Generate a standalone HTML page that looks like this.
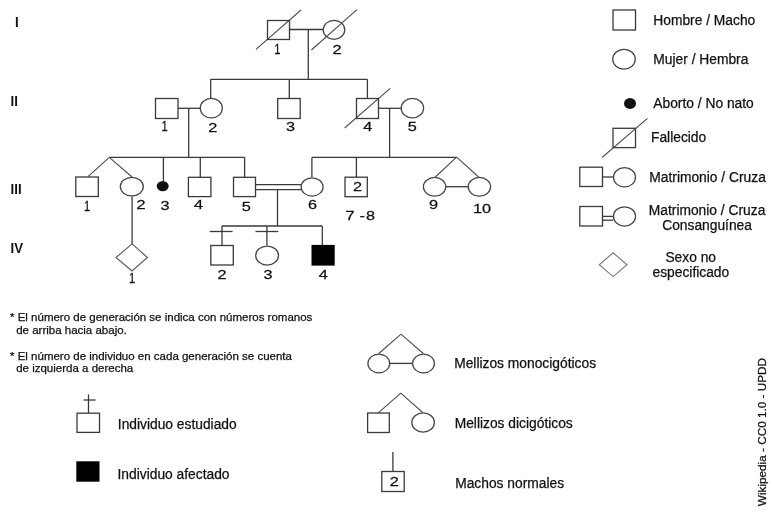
<!DOCTYPE html>
<html><head><meta charset="utf-8">
<style>
html,body{margin:0;padding:0;background:#fff;width:772px;height:512px;overflow:hidden}
svg{display:block;will-change:transform}

text{font-family:"Liberation Sans",sans-serif;fill:#111;stroke:#111;stroke-width:0.25px}
.g{font-weight:bold;font-size:14px;fill:#111;stroke:none}
.n{font-size:13px;fill:#4a4a4a;stroke:none}
.l{font-size:13.8px}
.s{font-size:11.5px}
.ln{stroke:#3a3a3a;stroke-width:1.3;fill:none}
.d{stroke:#4a4a4a;stroke-width:1.05}
.ln ellipse{stroke:#444;stroke-width:1.25}
</style></head><body>
<div id="w"><svg width="772" height="512" viewBox="0 0 772 512">
<rect width="772" height="512" fill="#fff"/>
<text class="g" transform="translate(15,27) scale(0.95,1)">I</text>
<text class="g" transform="translate(10.5,105.5) scale(0.95,1)">II</text>
<text class="g" transform="translate(10.5,193.7) scale(0.95,1)">III</text>
<text class="g" transform="translate(10.5,252.6) scale(0.95,1)">IV</text>
<g class="ln">
<line x1="289.5" y1="29.5" x2="323" y2="29.5"/>
<line x1="308.3" y1="29.5" x2="308.3" y2="79.3"/>
<line x1="210.6" y1="79.3" x2="367.4" y2="79.3"/>
<line x1="210.7" y1="79.3" x2="210.7" y2="98.5"/>
<line x1="178" y1="108.3" x2="200.1" y2="108.3"/>
<line x1="188.7" y1="108.3" x2="188.7" y2="157.4"/>
<line x1="289.3" y1="79.3" x2="289.3" y2="98.5"/>
<line x1="367.4" y1="79.3" x2="367.4" y2="98.5"/>
<line x1="378.5" y1="108.3" x2="401" y2="108.3"/>
<line x1="389.6" y1="108.3" x2="389.6" y2="157.4"/>
<line x1="109.3" y1="157.4" x2="244.6" y2="157.4"/>
<line x1="132.1" y1="196.4" x2="132.1" y2="243.9"/>
<line x1="163.4" y1="157.4" x2="163.4" y2="181"/>
<line x1="200.3" y1="157.4" x2="200.3" y2="177.3"/>
<line x1="244.6" y1="157.4" x2="244.6" y2="177.3"/>
<line x1="255.5" y1="184.6" x2="301" y2="184.6"/>
<line x1="255.5" y1="189.7" x2="301" y2="189.7"/>
<line x1="311.9" y1="157.4" x2="456.6" y2="157.4"/>
<line x1="311.9" y1="157.4" x2="311.9" y2="177.3"/>
<line x1="356.4" y1="157.4" x2="356.4" y2="177.2"/>
<line x1="446" y1="186.7" x2="468" y2="186.7"/>
<line x1="277.5" y1="189.7" x2="277.5" y2="226"/>
<line x1="222" y1="226" x2="322.3" y2="226"/>
<line x1="222" y1="226" x2="222" y2="245.5"/>
<line x1="209.8" y1="231.5" x2="232.6" y2="231.5"/>
<line x1="266.9" y1="226" x2="266.9" y2="245.5"/>
<line x1="255.5" y1="231.5" x2="278.3" y2="231.5"/>
<line x1="322.3" y1="226" x2="322.3" y2="245"/>
<line x1="602.5" y1="177" x2="613.3" y2="177"/>
<line x1="602.5" y1="216.4" x2="613.3" y2="216.4"/>
<line x1="602.5" y1="220.2" x2="613.3" y2="220.2"/>
<line x1="88.5" y1="394.4" x2="88.5" y2="413"/>
<line x1="83.5" y1="400" x2="95.6" y2="400"/>
<line x1="389.9" y1="363.4" x2="412.4" y2="363.4"/>
<line x1="392.9" y1="452" x2="392.9" y2="471.3"/>
<line class="d" x1="256" y1="49.4" x2="301" y2="10"/>
<line class="d" x1="311.4" y1="50" x2="357" y2="9.6"/>
<line class="d" x1="344.6" y1="128" x2="390.2" y2="88.4"/>
<line class="d" x1="602" y1="157.5" x2="647.5" y2="118.3"/>
<line class="d" x1="109.3" y1="157.4" x2="88" y2="176.7"/>
<line class="d" x1="109.3" y1="157.4" x2="132.1" y2="177"/>
<line class="d" x1="456.6" y1="157.2" x2="435.3" y2="177"/>
<line class="d" x1="456.6" y1="157.2" x2="478.6" y2="177"/>
<line class="d" x1="401" y1="334.1" x2="378.8" y2="353.5"/>
<line class="d" x1="401" y1="334.1" x2="423.3" y2="353.5"/>
<line class="d" x1="400.8" y1="393.2" x2="378.2" y2="412.9"/>
<line class="d" x1="400.8" y1="393.2" x2="422.7" y2="412.5"/>
<rect x="267.5" y="20.5" width="22" height="19"/>
<rect x="155.5" y="98.5" width="22.5" height="20"/>
<rect x="277.7" y="98.5" width="22.5" height="20"/>
<rect x="356.5" y="98.5" width="22" height="20"/>
<rect x="75.8" y="177" width="22.5" height="19.5"/>
<rect x="188.4" y="177.3" width="22.5" height="19.3"/>
<rect x="233.5" y="177.3" width="22" height="19.3"/>
<rect x="345" y="177.2" width="22.3" height="19.5"/>
<rect x="210.8" y="245.5" width="22.5" height="19.5"/>
<rect x="613" y="10" width="22.5" height="20"/>
<rect x="613" y="128.3" width="22.5" height="19.3"/>
<rect x="579.8" y="167.2" width="22.7" height="19.3"/>
<rect x="579.8" y="206.5" width="22.7" height="19.5"/>
<rect x="77" y="413.2" width="22.5" height="19.2"/>
<rect x="367.6" y="413" width="21.7" height="19.5"/>
<rect x="381.8" y="471.5" width="22.4" height="20"/>
<ellipse cx="334" cy="29.8" rx="10.8" ry="9.45"/>
<ellipse cx="211.3" cy="108.2" rx="11" ry="9.75"/>
<ellipse cx="412.4" cy="108.2" rx="11.2" ry="9.75"/>
<ellipse cx="131.8" cy="186.6" rx="11.5" ry="9.35"/>
<ellipse cx="312.1" cy="186.9" rx="11" ry="9.15"/>
<ellipse cx="434.6" cy="186.8" rx="11.2" ry="9.35"/>
<ellipse cx="479.4" cy="186.8" rx="11.2" ry="9.35"/>
<ellipse cx="267.1" cy="255.6" rx="11.4" ry="9.55"/>
<ellipse cx="624" cy="59.3" rx="11.3" ry="9.85"/>
<ellipse cx="624.5" cy="177.3" rx="11" ry="9.65"/>
<ellipse cx="624.5" cy="216.4" rx="11" ry="9.65"/>
<ellipse cx="378.8" cy="363.5" rx="10.9" ry="9.35"/>
<ellipse cx="423.5" cy="363.5" rx="10.9" ry="9.35"/>
<ellipse cx="423.1" cy="422.5" rx="11.3" ry="9.55"/>
<polygon points="132.1,243.9 147.4,257.5 132,271 116,257.5" style="stroke:#5a5a5a;stroke-width:1.15"/>
<polygon points="613.1,252.8 627,264.8 613.1,276.6 599.3,264.8" style="stroke:#7a7a7a;stroke-width:1.15"/>
</g>
<ellipse cx="162.7" cy="186.1" rx="6" ry="5.2" fill="#111"/>
<rect x="311.5" y="244.9" width="23.2" height="20.7" fill="#000"/>
<ellipse cx="630" cy="103.4" rx="6" ry="5.5" fill="#111"/>
<rect x="76.3" y="461.3" width="23.2" height="20.4" fill="#000"/>
<g class="n">
<text transform="translate(274.15,53.7) scale(0.8,1)" style="font-size:14px">1</text>
<text transform="translate(332.49,53.8) scale(1.25,1)">2</text>
<text transform="translate(161.55,131) scale(0.8,1)" style="font-size:14px">1</text>
<text transform="translate(208.19,132) scale(1.25,1)">2</text>
<text transform="translate(285.98,130.5) scale(1.25,1)">3</text>
<text transform="translate(363.33,131) scale(1.25,1)">4</text>
<text transform="translate(407.75,131) scale(1.25,1)">5</text>
<text transform="translate(84.05,210.5) scale(0.8,1)" style="font-size:14px">1</text>
<text transform="translate(136.49,209.4) scale(1.25,1)">2</text>
<text transform="translate(160.48,209.5) scale(1.25,1)">3</text>
<text transform="translate(193.93,209.1) scale(1.25,1)">4</text>
<text transform="translate(241.85,211) scale(1.25,1)">5</text>
<text transform="translate(307.97,209) scale(1.25,1)">6</text>
<text transform="translate(352.99,191.1) scale(1.25,1)">2</text>
<text transform="translate(345.47,220) scale(1.25,1)">7</text>
<text transform="translate(359.47,220) scale(1.25,1)">-</text>
<text transform="translate(366.1,220) scale(1.25,1)">8</text>
<text transform="translate(429.04,208.9) scale(1.25,1)">9</text>
<text transform="translate(472.96,212.7) scale(1.25,1)">10</text>
<text transform="translate(128.95,282.6) scale(0.8,1)" style="font-size:14px">1</text>
<text transform="translate(217.39,278.7) scale(1.25,1)">2</text>
<text transform="translate(263.58,278.7) scale(1.25,1)">3</text>
<text transform="translate(318.83,278.7) scale(1.25,1)">4</text>
<text transform="translate(389.79,486.2) scale(1.25,1)">2</text>
</g>
<g class="l">
<text x="653.3" y="25.3">Hombre / Macho</text>
<text x="653.3" y="63.6">Mujer / Hembra</text>
<text x="653.3" y="107.8">Aborto / No nato</text>
<text x="651" y="142">Fallecido</text>
<text x="649.3" y="181.9">Matrimonio / Cruza</text>
<text x="648.8" y="214.7">Matrimonio / Cruza</text>
<text x="662.2" y="229.8">Consanguínea</text>
<text x="665.4" y="261.7">Sexo no</text>
<text x="652.5" y="277">especificado</text>
<text x="117.8" y="429.1">Individuo estudiado</text>
<text x="117.5" y="478.9">Individuo afectado</text>
<text x="454.2" y="368">Mellizos monocigóticos</text>
<text x="454.7" y="427.7">Mellizos dicigóticos</text>
<text x="455.2" y="487.5">Machos normales</text>
</g>
<g class="s">
<text x="10" y="320.8">* El número de generación se indica con números romanos</text>
<text x="16.2" y="334">de arriba hacia abajo.</text>
<text x="10" y="359.5">* El número de individuo en cada generación se cuenta</text>
<text x="16.2" y="372.4">de izquierda a derecha</text>
</g>
<text transform="translate(765.7,506.2) rotate(-90) scale(1.042,1)" style="font-size:11.3px">Wikipedia - CC0 1.0 - UPDD</text>
</svg></div>
</body></html>
